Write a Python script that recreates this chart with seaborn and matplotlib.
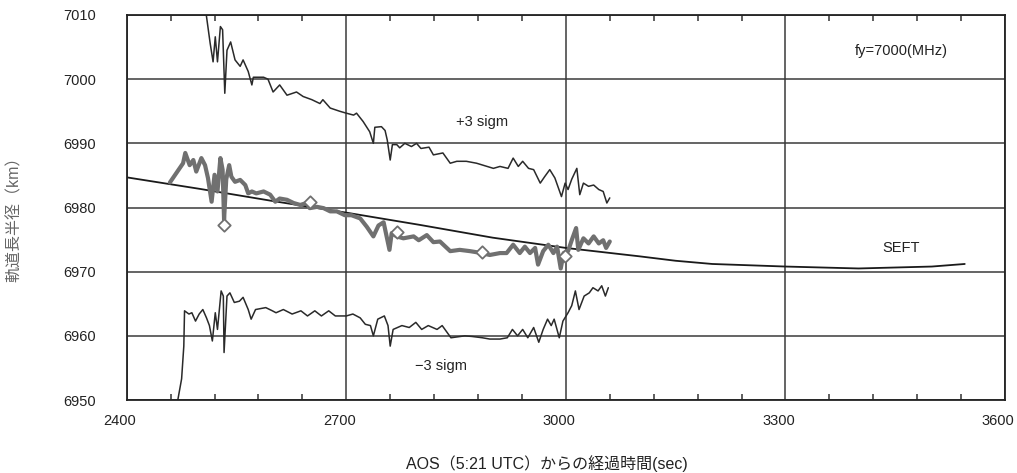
import numpy as np
import pandas as pd
import matplotlib
matplotlib.use('Agg')
import matplotlib.pyplot as plt
import matplotlib.transforms as mtrans
import seaborn as sns

# Dados (tempo em s, raio em km)
upper_t = [2493, 2500, 2508, 2514, 2518, 2521, 2524, 2528, 2531, 2534, 2537, 2542, 2548, 2555,
           2559, 2566, 2571, 2573, 2587, 2593, 2600, 2609, 2619, 2632, 2641, 2653, 2664, 2668,
           2678, 2691, 2700, 2710, 2714, 2723, 2732, 2737, 2739, 2748, 2753, 2756, 2760, 2763,
           2769, 2773, 2780, 2789, 2796, 2802, 2813, 2819, 2832, 2842, 2851, 2864, 2878, 2901,
           2910, 2921, 2928, 2935, 2941, 2949, 2956, 2965, 2971, 2978, 2985, 2994, 2999, 3003,
           3008, 3015, 3019, 3024, 3031, 3038, 3045, 3051, 3056, 3060]
upper_v = [7010.3, 7010.1, 7010.6, 7005.6, 7002.7, 7006.6, 7002.7, 7008.2, 7007.7, 6997.8, 7004.5,
           7005.8, 7003.0, 7002.0, 7003.0, 7001.2, 6999.1, 7000.3, 7000.3, 7000.0, 6998.0, 6999.1,
           6997.5, 6998.0, 6997.3, 6996.8, 6996.2, 6996.8, 6995.5, 6995.0, 6994.7, 6994.4, 6994.7,
           6993.4, 6991.8, 6990.0, 6992.5, 6992.6, 6992.0, 6990.5, 6987.4, 6989.8, 6989.8, 6989.3,
           6990.0, 6989.5, 6990.0, 6989.2, 6989.4, 6988.2, 6988.5, 6986.9, 6987.2, 6987.2, 6986.9,
           6986.1, 6986.4, 6986.1, 6987.7, 6986.4, 6987.2, 6986.1, 6985.9, 6983.8, 6984.8, 6985.9,
           6984.6, 6981.7, 6983.8, 6982.8, 6984.4, 6986.1, 6982.0, 6983.8, 6983.3, 6983.5, 6982.8,
           6982.5, 6980.7, 6981.5]

mid_t = [2459, 2477, 2480, 2486, 2491, 2495, 2502, 2507, 2511, 2516, 2520, 2524, 2528, 2531,
         2533, 2536, 2540, 2543, 2548, 2555, 2562, 2566, 2571, 2577, 2587, 2596, 2603, 2609,
         2619, 2628, 2637, 2646, 2650, 2660, 2669, 2678, 2687, 2698, 2707, 2719, 2728, 2737,
         2744, 2751, 2759, 2762, 2769, 2778, 2792, 2799, 2810, 2819, 2828, 2842, 2855, 2869,
         2885, 2896, 2910, 2919, 2928, 2937, 2944, 2951, 2958, 2962, 2969, 2976, 2983, 2988,
         2993, 2997, 3003, 3008, 3014, 3017, 3024, 3031, 3038, 3045, 3051, 3055, 3060]
mid_v = [6983.9, 6986.9, 6988.5, 6986.6, 6987.4, 6985.6, 6987.7, 6986.6, 6984.6, 6980.9, 6985.1,
         6982.5, 6987.7, 6985.9, 6978.1, 6984.4, 6986.6, 6984.8, 6984.0, 6984.3, 6983.5, 6982.2,
         6982.5, 6982.2, 6982.5, 6982.0, 6980.9, 6981.4, 6981.2, 6980.7, 6980.4, 6980.7, 6979.9,
         6980.1, 6979.9, 6979.4, 6979.4, 6978.8, 6978.8, 6978.3, 6977.0, 6975.5, 6977.2, 6977.7,
         6973.4, 6976.0, 6975.5, 6975.2, 6975.5, 6974.9, 6975.7, 6974.6, 6974.7, 6973.2, 6973.4,
         6973.2, 6972.9, 6972.6, 6972.9, 6972.9, 6974.2, 6972.9, 6973.9, 6972.9, 6973.7, 6971.1,
         6973.2, 6974.2, 6972.9, 6973.9, 6970.5, 6972.9, 6973.2, 6974.9, 6976.8, 6973.4, 6975.2,
         6974.4, 6975.5, 6974.4, 6974.9, 6973.7, 6974.7]

lower_t = [2469, 2475, 2478, 2479, 2485, 2489, 2494, 2499, 2504, 2509, 2513, 2517, 2521, 2524,
           2529, 2532, 2533, 2537, 2541, 2547, 2554, 2559, 2566, 2570, 2576, 2590, 2599, 2604,
           2614, 2626, 2638, 2647, 2657, 2666, 2676, 2685, 2700, 2709, 2719, 2726, 2733, 2737,
           2743, 2752, 2757, 2760, 2764, 2776, 2786, 2795, 2803, 2812, 2824, 2831, 2843, 2862,
           2872, 2886, 2896, 2910, 2920, 2927, 2934, 2941, 2948, 2956, 2963, 2969, 2975, 2980,
           2984, 2991, 2996, 3003, 3008, 3013, 3018, 3025, 3032, 3037, 3044, 3049, 3054, 3058]
lower_v = [6949.5, 6953.3, 6958.4, 6963.9, 6963.4, 6963.6, 6962.3, 6963.4, 6964.1, 6962.8, 6961.6,
           6959.2, 6963.6, 6961.0, 6967.0, 6966.2, 6957.4, 6966.2, 6966.7, 6965.2, 6965.4, 6966.0,
           6964.1, 6962.6, 6964.1, 6964.4, 6963.9, 6963.6, 6964.1, 6963.4, 6963.9, 6963.1, 6963.9,
           6963.1, 6963.9, 6963.1, 6963.1, 6963.4, 6962.8, 6961.8, 6961.6, 6960.0, 6962.6, 6963.1,
           6961.6, 6958.4, 6961.0, 6961.6, 6961.3, 6962.1, 6961.0, 6961.6, 6961.0, 6961.6, 6959.7,
           6960.0, 6959.9, 6959.7, 6959.5, 6959.5, 6959.7, 6961.0, 6960.0, 6961.0, 6959.7, 6961.3,
           6959.0, 6961.0, 6962.6, 6961.6, 6962.6, 6959.7, 6962.3, 6963.6, 6964.7, 6967.0, 6964.1,
           6966.2, 6966.7, 6967.5, 6967.0, 6967.8, 6966.2, 6967.5]

seft_t = [2400, 2500, 2600, 2700, 2800, 2900, 3000, 3100, 3150, 3200, 3300, 3400, 3500, 3545]
seft_v = [6984.7, 6982.9, 6981.0, 6979.2, 6977.3, 6975.3, 6973.7, 6972.4, 6971.7, 6971.2,
          6970.8, 6970.5, 6970.8, 6971.2]

diamond_t = [2533, 2650, 2769, 2885, 2999]
diamond_v = [6977.3, 6980.9, 6976.2, 6973.0, 6972.4]

sns.set_style('white')
plt.rcParams['font.family'] = ['Liberation Sans', 'Noto Sans CJK JP', 'DejaVu Sans']

fig = plt.figure(figsize=(10.17, 4.73), dpi=100)
ax = fig.add_axes([0.1246, 0.1543, 0.8636, 0.8140])

df_up = pd.DataFrame({'t': upper_t, 'v': upper_v})
df_mid = pd.DataFrame({'t': mid_t, 'v': mid_v})
df_low = pd.DataFrame({'t': lower_t, 'v': lower_v})
df_seft = pd.DataFrame({'t': seft_t, 'v': seft_v})
df_dia = pd.DataFrame({'t': diamond_t, 'v': diamond_v})

sns.lineplot(data=df_seft, x='t', y='v', ax=ax, color='#1a1a1a', lw=1.3, sort=False, estimator=None)
sns.lineplot(data=df_up, x='t', y='v', ax=ax, color='#2a2a2a', lw=1.1, sort=False, estimator=None)
sns.lineplot(data=df_low, x='t', y='v', ax=ax, color='#2a2a2a', lw=1.1, sort=False, estimator=None)
sns.lineplot(data=df_mid, x='t', y='v', ax=ax, color='#707070', lw=3.0, sort=False, estimator=None)
sns.scatterplot(data=df_dia, x='t', y='v', ax=ax, marker='D', s=40, facecolor='white',
                edgecolor='#707070', linewidth=1.3, zorder=5)

ax.set_xlim(2400, 3600)
ax.set_ylim(6950, 7010)
ax.set_xticks([2400, 2700, 3000, 3300, 3600])
ax.set_xticks(np.arange(2400, 3601, 60), minor=True)
ax.set_yticks(np.arange(6950, 7011, 10))
ax.grid(True, which='major', color='#3a3a3a', lw=1.1)
ax.tick_params(axis='x', which='major', length=0, pad=10, labelsize=10.5, colors='#222222')
ax.tick_params(axis='x', which='minor', direction='in', length=4, width=1.1,
               top=True, bottom=True, color='#333333')
ax.tick_params(axis='y', which='major', length=0, pad=22, labelsize=10.5, colors='#222222')
for s in ax.spines.values():
    s.set_visible(True)
    s.set_color('#222222')
    s.set_linewidth(1.3)

# rótulos do eixo x ficam um pouco à esquerda no original
shift = mtrans.ScaledTranslation(-7 / 100, 0, fig.dpi_scale_trans)
for lbl in ax.get_xticklabels():
    lbl.set_transform(lbl.get_transform() + shift)

ax.text(3459, 7004.4, 'fy=7000(MHz)', fontsize=10.5, ha='center', va='center', color='#222222')
ax.text(2886, 6993.4, '+3 sigm', fontsize=10.5, ha='center', va='center', color='#222222')
ax.text(2829, 6955.3, '\u22123 sigm', fontsize=10.5, ha='center', va='center', color='#222222')
ax.text(3458, 6973.7, 'SEFT', fontsize=10.5, ha='center', va='center', color='#222222')

ax.set_xlabel('AOS（5:21 UTC）からの経過時間(sec)', fontsize=11.5, color='#222222')
ax.xaxis.set_label_coords(0.4785, -0.143)
ax.set_ylabel('軌道長半径（km）', fontsize=11.5, color='#666666')
ax.yaxis.set_label_coords(-0.119, 0.48)

fig.savefig('out.png', dpi=100)
